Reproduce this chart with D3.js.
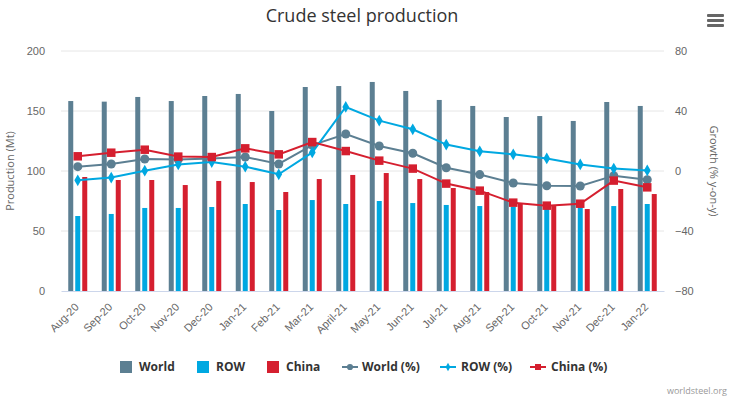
<!DOCTYPE html>
<html>
<head>
<meta charset="utf-8">
<script src="https://cdn.jsdelivr.net/npm/d3@7"></script>
<style>
  html, body { margin: 0; padding: 0; background: #fff; }
  svg { display: block; font-family: "Open Sans", "DejaVu Sans", sans-serif; }
</style>
</head>
<body>
<div id="chart"></div>
<script>
const months = ["Aug-20","Sep-20","Oct-20","Nov-20","Dec-20","Jan-21","Feb-21","Mar-21","April-21",
  "May-21","Jun-21","Jul-21","Aug-21","Sep-21","Oct-21","Nov-21","Dec-21","Jan-22"];

// production, Mt
const worldProd = [158.3,157.8,161.7,158.3,162.5,164.2,150,170,170.8,174.2,166.7,159.2,154.2,145,145.8,141.7,157.5,154.2];
const rowProd   = [62.5,64.2,69.2,69.2,70,72.5,67.5,75.8,72.5,75,73.3,71.7,70.8,70.3,70,70,70.8,72.5];
const chinaProd = [95,92.5,92.5,88.3,91.7,90.8,82.5,93.3,96.7,98.3,93.3,85.8,82.5,73.3,70.8,68.3,85,80.8];

// growth, % y-on-y
const worldGrowth = [2.9,4.7,8,7.6,8.4,9.3,4.7,17.3,24.7,16.7,11.8,2.2,-2.4,-8,-9.8,-10,-3.1,-5.8];
const rowGrowth   = [-6.2,-4.4,0.2,4.4,6,2.9,-2.2,12.4,42.7,33.6,27.8,17.6,13.1,11.1,8.4,4.4,1.6,0.4];
const chinaGrowth = [9.8,12.2,14.2,9.6,9.3,15.1,11.1,19.3,13.3,6.9,1.6,-8.4,-13.1,-21.1,-23.1,-21.8,-6.4,-10.9];

const leftTicks = [0, 50, 100, 150, 200];
const rightTicks = [-80, -40, 0, 40, 80];

const colors = { World: "#5c7f92", ROW: "#00a8e1", China: "#d51f2f" };

const width = 737, height = 399;
const margin = { top: 51, right: 73, bottom: 108, left: 61 };
const plotW = width - margin.left - margin.right;
const plotH = height - margin.top - margin.bottom;

const svg = d3.select("#chart").append("svg")
  .attr("width", width)
  .attr("height", height);

svg.append("text")
  .attr("x", 362)
  .attr("y", 22)
  .attr("text-anchor", "middle")
  .attr("fill", "#333")
  .style("font-size", "18px")
  .text("Crude steel production");

// menu icon
[0, 5, 10].forEach(dy => {
  svg.append("rect")
    .attr("x", 707).attr("y", 14 + dy)
    .attr("width", 17).attr("height", 3)
    .attr("rx", 1)
    .attr("fill", "#666");
});

const g = svg.append("g").attr("transform", `translate(${margin.left},${margin.top})`);

const x = d3.scaleBand().domain(months).range([0, plotW]);
const xSub = d3.scaleBand().domain(["World", "ROW", "China"]).range([-9.5, 9.5]).paddingInner(2 / 7);
const yLeft = d3.scaleLinear().domain([0, 200]).range([plotH, 0]);
const yRight = d3.scaleLinear().domain([-80, 80]).range([plotH, 0]);

// grid
g.append("g")
  .selectAll("line")
  .data(leftTicks.slice(1))
  .join("line")
  .attr("x1", 0).attr("x2", plotW)
  .attr("y1", d => yLeft(d)).attr("y2", d => yLeft(d))
  .attr("stroke", "#e6e6e6");

// left axis
const leftAxis = g.append("g")
  .call(d3.axisLeft(yLeft).tickValues(leftTicks).tickSize(0).tickPadding(16));
leftAxis.select(".domain").remove();
leftAxis.selectAll("text").attr("fill", "#666").style("font-size", "11px").style("font-family", "inherit");

// right axis
const rightAxis = g.append("g")
  .attr("transform", `translate(${plotW},0)`)
  .call(d3.axisRight(yRight).tickValues(rightTicks).tickSize(0).tickPadding(11));
rightAxis.select(".domain").remove();
rightAxis.selectAll("text").attr("fill", "#666").style("font-size", "11px").style("font-family", "inherit");

// axis titles
svg.append("text")
  .attr("transform", `translate(14,${margin.top + plotH / 2}) rotate(-90)`)
  .attr("text-anchor", "middle")
  .attr("fill", "#666")
  .style("font-size", "11px")
  .text("Production (Mt)");

svg.append("text")
  .attr("transform", `translate(710,${margin.top + plotH / 2}) rotate(90)`)
  .attr("text-anchor", "middle")
  .attr("fill", "#666")
  .style("font-size", "11px")
  .text("Growth (% y-on-y)");

// columns
const barSeries = [
  { name: "World", values: worldProd },
  { name: "ROW", values: rowProd },
  { name: "China", values: chinaProd }
];

barSeries.forEach(s => {
  g.append("g")
    .selectAll("rect")
    .data(s.values)
    .join("rect")
    .attr("x", (d, i) => x(months[i]) + x.bandwidth() / 2 + xSub(s.name))
    .attr("y", d => yLeft(d))
    .attr("width", xSub.bandwidth())
    .attr("height", d => yLeft(0) - yLeft(d))
    .attr("fill", colors[s.name]);
});

// bottom axis
const bottomAxis = g.append("g")
  .attr("transform", `translate(0,${plotH})`)
  .call(d3.axisBottom(x).tickSize(0));
bottomAxis.select(".domain").attr("stroke", "#ccd6eb");
bottomAxis.selectAll("text")
  .attr("fill", "#666")
  .style("font-size", "11px")
  .style("font-family", "inherit")
  .attr("text-anchor", "end")
  .attr("y", 0)
  .attr("dy", "0.35em")
  .attr("transform", "translate(-1,14) rotate(-45)");

// lines
const lineSeries = [
  { name: "World", values: worldGrowth, symbol: d3.symbolCircle, size: 64 },
  { name: "ROW", values: rowGrowth, symbol: d3.symbolDiamond, size: 40 },
  { name: "China", values: chinaGrowth, symbol: d3.symbolSquare, size: 72 }
];

const line = d3.line()
  .x((d, i) => x(months[i]) + x.bandwidth() / 2)
  .y(d => yRight(d));

lineSeries.forEach(s => {
  g.append("path")
    .datum(s.values)
    .attr("d", line)
    .attr("fill", "none")
    .attr("stroke", colors[s.name])
    .attr("stroke-width", 2);
  g.append("g")
    .selectAll("path")
    .data(s.values)
    .join("path")
    .attr("transform", (d, i) => `translate(${x(months[i]) + x.bandwidth() / 2},${yRight(d)})`)
    .attr("d", d3.symbol(s.symbol, s.size))
    .attr("fill", colors[s.name]);
});

// legend
const legendY = 367;
const legendItems = [
  { label: "World", key: "World", x: 120, tx: 139, type: "bar" },
  { label: "ROW", key: "ROW", x: 197, tx: 216, type: "bar" },
  { label: "China", key: "China", x: 267, tx: 286, type: "bar" },
  { label: "World (%)", key: "World", x: 342, tx: 362, type: "line", symbol: d3.symbolCircle, size: 30 },
  { label: "ROW (%)", key: "ROW", x: 440, tx: 461, type: "line", symbol: d3.symbolDiamond, size: 20 },
  { label: "China (%)", key: "China", x: 530, tx: 551, type: "line", symbol: d3.symbolSquare, size: 36 }
];

const legend = svg.append("g");
legendItems.forEach(it => {
  const item = legend.append("g").attr("transform", `translate(${it.x},${legendY})`);
  if (it.type === "bar") {
    item.append("rect")
      .attr("x", 0).attr("y", -6)
      .attr("width", 12).attr("height", 12)
      .attr("fill", colors[it.key]);
  } else {
    item.append("line")
      .attr("x1", 0).attr("x2", 16)
      .attr("y1", 0).attr("y2", 0)
      .attr("stroke", colors[it.key]).attr("stroke-width", 2);
    item.append("path")
      .attr("transform", "translate(8,0)")
      .attr("d", d3.symbol(it.symbol, it.size))
      .attr("fill", colors[it.key]);
  }
  item.append("text")
    .attr("x", it.tx - it.x).attr("y", 0).attr("dy", "0.35em")
    .attr("fill", "#333")
    .style("font-size", "12px").style("font-weight", "bold")
    .text(it.label);
});

svg.append("text")
  .attr("x", 727)
  .attr("y", 394)
  .attr("text-anchor", "end")
  .attr("fill", "#999")
  .style("font-size", "9px")
  .text("worldsteel.org");
</script>
</body>
</html>
